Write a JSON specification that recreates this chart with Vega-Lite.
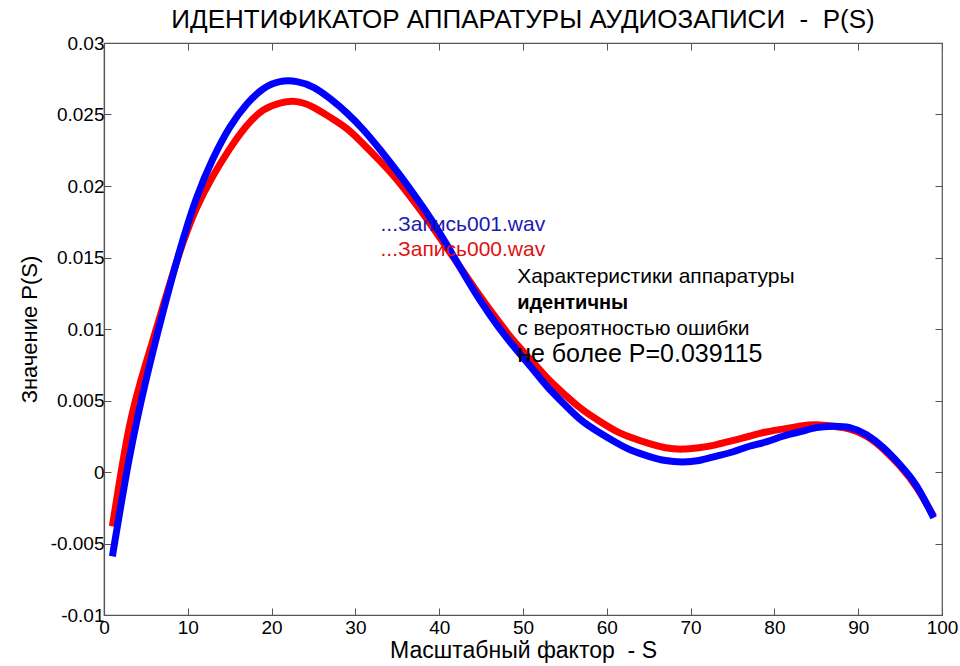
{
  "$schema": "https://vega.github.io/schema/vega-lite/v6.json",
  "width": 838,
  "height": 572,
  "autosize": "none",
  "padding": {"left": 104, "top": 43, "right": 18, "bottom": 51},
  "background": "white",
  "title": {
    "text": "ИДЕНТИФИКАТОР АППАРАТУРЫ АУДИОЗАПИСИ \u00a0- \u00a0P(S)",
    "fontSize": 26,
    "fontWeight": "normal",
    "font": "Liberation Sans",
    "color": "black",
    "offset": 1,
    "anchor": "middle"
  },
  "config": {
    "font": "Liberation Sans",
    "view": {"stroke": "#555555", "strokeWidth": 1.2},
    "axis": {
      "grid": false,
      "domainColor": "#555555",
      "domainWidth": 1.2,
      "tickColor": "#555555",
      "tickSize": -7,
      "labelColor": "black",
      "labelFontSize": 19,
      "labelFont": "Liberation Sans",
      "titleFont": "Liberation Sans",
      "titleFontWeight": "normal",
      "titleColor": "black"
    }
  },
  "datasets": {
    "curves": [
      {"S": 1, "P": -0.0038, "file": "Запись000.wav"},
      {"S": 3, "P": 0.0031, "file": "Запись000.wav"},
      {"S": 5, "P": 0.0076, "file": "Запись000.wav"},
      {"S": 7, "P": 0.0115, "file": "Запись000.wav"},
      {"S": 9, "P": 0.0153, "file": "Запись000.wav"},
      {"S": 11, "P": 0.0184, "file": "Запись000.wav"},
      {"S": 13, "P": 0.0207, "file": "Запись000.wav"},
      {"S": 15, "P": 0.0226, "file": "Запись000.wav"},
      {"S": 17, "P": 0.0242, "file": "Запись000.wav"},
      {"S": 19, "P": 0.0253, "file": "Запись000.wav"},
      {"S": 21, "P": 0.0258, "file": "Запись000.wav"},
      {"S": 23, "P": 0.0259, "file": "Запись000.wav"},
      {"S": 25, "P": 0.0255, "file": "Запись000.wav"},
      {"S": 27, "P": 0.0248, "file": "Запись000.wav"},
      {"S": 29, "P": 0.024, "file": "Запись000.wav"},
      {"S": 31, "P": 0.0229, "file": "Запись000.wav"},
      {"S": 33, "P": 0.0217, "file": "Запись000.wav"},
      {"S": 35, "P": 0.0204, "file": "Запись000.wav"},
      {"S": 37, "P": 0.0189, "file": "Запись000.wav"},
      {"S": 39, "P": 0.0173, "file": "Запись000.wav"},
      {"S": 41, "P": 0.0156, "file": "Запись000.wav"},
      {"S": 43, "P": 0.0139, "file": "Запись000.wav"},
      {"S": 45, "P": 0.0122, "file": "Запись000.wav"},
      {"S": 47, "P": 0.0106, "file": "Запись000.wav"},
      {"S": 49, "P": 0.0091, "file": "Запись000.wav"},
      {"S": 51, "P": 0.0078, "file": "Запись000.wav"},
      {"S": 53, "P": 0.0065, "file": "Запись000.wav"},
      {"S": 55, "P": 0.0054, "file": "Запись000.wav"},
      {"S": 57, "P": 0.0044, "file": "Запись000.wav"},
      {"S": 59, "P": 0.0036, "file": "Запись000.wav"},
      {"S": 61, "P": 0.0029, "file": "Запись000.wav"},
      {"S": 63, "P": 0.0024, "file": "Запись000.wav"},
      {"S": 65, "P": 0.002, "file": "Запись000.wav"},
      {"S": 67, "P": 0.0017, "file": "Запись000.wav"},
      {"S": 69, "P": 0.0016, "file": "Запись000.wav"},
      {"S": 71, "P": 0.0017, "file": "Запись000.wav"},
      {"S": 73, "P": 0.0019, "file": "Запись000.wav"},
      {"S": 75, "P": 0.0022, "file": "Запись000.wav"},
      {"S": 77, "P": 0.0025, "file": "Запись000.wav"},
      {"S": 79, "P": 0.0028, "file": "Запись000.wav"},
      {"S": 81, "P": 0.003, "file": "Запись000.wav"},
      {"S": 83, "P": 0.0032, "file": "Запись000.wav"},
      {"S": 85, "P": 0.0033, "file": "Запись000.wav"},
      {"S": 87, "P": 0.0032, "file": "Запись000.wav"},
      {"S": 89, "P": 0.003, "file": "Запись000.wav"},
      {"S": 91, "P": 0.0025, "file": "Запись000.wav"},
      {"S": 93, "P": 0.0016, "file": "Запись000.wav"},
      {"S": 95, "P": 0.0004, "file": "Запись000.wav"},
      {"S": 97, "P": -0.0011, "file": "Запись000.wav"},
      {"S": 99, "P": -0.0031, "file": "Запись000.wav"},
      {"S": 1, "P": -0.0059, "file": "Запись001.wav"},
      {"S": 3, "P": 0.0009, "file": "Запись001.wav"},
      {"S": 5, "P": 0.0064, "file": "Запись001.wav"},
      {"S": 7, "P": 0.0111, "file": "Запись001.wav"},
      {"S": 9, "P": 0.0154, "file": "Запись001.wav"},
      {"S": 11, "P": 0.0191, "file": "Запись001.wav"},
      {"S": 13, "P": 0.0219, "file": "Запись001.wav"},
      {"S": 15, "P": 0.0241, "file": "Запись001.wav"},
      {"S": 17, "P": 0.0257, "file": "Запись001.wav"},
      {"S": 19, "P": 0.0268, "file": "Запись001.wav"},
      {"S": 21, "P": 0.0273, "file": "Запись001.wav"},
      {"S": 23, "P": 0.0273, "file": "Запись001.wav"},
      {"S": 25, "P": 0.0269, "file": "Запись001.wav"},
      {"S": 27, "P": 0.0261, "file": "Запись001.wav"},
      {"S": 29, "P": 0.0251, "file": "Запись001.wav"},
      {"S": 31, "P": 0.0239, "file": "Запись001.wav"},
      {"S": 33, "P": 0.0225, "file": "Запись001.wav"},
      {"S": 35, "P": 0.021, "file": "Запись001.wav"},
      {"S": 37, "P": 0.0194, "file": "Запись001.wav"},
      {"S": 39, "P": 0.0177, "file": "Запись001.wav"},
      {"S": 41, "P": 0.0158, "file": "Запись001.wav"},
      {"S": 43, "P": 0.0138, "file": "Запись001.wav"},
      {"S": 45, "P": 0.0119, "file": "Запись001.wav"},
      {"S": 47, "P": 0.0102, "file": "Запись001.wav"},
      {"S": 49, "P": 0.0087, "file": "Запись001.wav"},
      {"S": 51, "P": 0.0073, "file": "Запись001.wav"},
      {"S": 53, "P": 0.0059, "file": "Запись001.wav"},
      {"S": 55, "P": 0.0047, "file": "Запись001.wav"},
      {"S": 57, "P": 0.0036, "file": "Запись001.wav"},
      {"S": 59, "P": 0.0028, "file": "Запись001.wav"},
      {"S": 61, "P": 0.0021, "file": "Запись001.wav"},
      {"S": 63, "P": 0.0015, "file": "Запись001.wav"},
      {"S": 65, "P": 0.0011, "file": "Запись001.wav"},
      {"S": 67, "P": 0.0008, "file": "Запись001.wav"},
      {"S": 69, "P": 0.0007, "file": "Запись001.wav"},
      {"S": 71, "P": 0.0008, "file": "Запись001.wav"},
      {"S": 73, "P": 0.0011, "file": "Запись001.wav"},
      {"S": 75, "P": 0.0014, "file": "Запись001.wav"},
      {"S": 77, "P": 0.0018, "file": "Запись001.wav"},
      {"S": 79, "P": 0.0021, "file": "Запись001.wav"},
      {"S": 81, "P": 0.0025, "file": "Запись001.wav"},
      {"S": 83, "P": 0.0028, "file": "Запись001.wav"},
      {"S": 85, "P": 0.0031, "file": "Запись001.wav"},
      {"S": 87, "P": 0.0032, "file": "Запись001.wav"},
      {"S": 89, "P": 0.0031, "file": "Запись001.wav"},
      {"S": 91, "P": 0.0026, "file": "Запись001.wav"},
      {"S": 93, "P": 0.0017, "file": "Запись001.wav"},
      {"S": 95, "P": 0.0005, "file": "Запись001.wav"},
      {"S": 97, "P": -0.001, "file": "Запись001.wav"},
      {"S": 99, "P": -0.0032, "file": "Запись001.wav"}
    ],
    "notes": [
      {"key": "f1", "x": 33.0, "y": 0.01727, "label": "...Запись001.wav"},
      {"key": "f0", "x": 33.0, "y": 0.01552, "label": "...Запись000.wav"},
      {"key": "n1", "x": 49.3, "y": 0.01364, "label": "Характеристики аппаратуры"},
      {"key": "b", "x": 49.3, "y": 0.01182, "label": "идентичны"},
      {"key": "n2", "x": 49.3, "y": 0.0100, "label": "с вероятностью ошибки"},
      {"key": "p", "x": 49.3, "y": 0.00825, "label": "не более P=0.039115"}
    ]
  },
  "layer": [
    {
      "data": {"name": "curves"},
      "transform": [{"filter": "datum.file == 'Запись000.wav'"}],
      "mark": {"type": "line", "color": "#FF0000", "strokeWidth": 7, "interpolate": "natural", "strokeCap": "butt"},
      "encoding": {
        "x": {"field": "S", "type": "quantitative", "scale": {"domain": [0, 100], "nice": false},
          "axis": {"orient": "bottom", "values": [0, 10, 20, 30, 40, 50, 60, 70, 80, 90, 100], "labelPadding": 10, "title": "Масштабный фактор \u00a0- S", "titleFontSize": 23, "titlePadding": 2, "labelFlush": false}},
        "y": {"field": "P", "type": "quantitative", "scale": {"domain": [-0.01, 0.03], "nice": false, "zero": false},
          "axis": {"orient": "left", "values": [-0.01, -0.005, 0, 0.005, 0.01, 0.015, 0.02, 0.025, 0.03], "labelExpr": "'' + datum.value", "labelPadding": 7, "title": "Значение P(S)", "titleFontSize": 22, "titlePadding": 9, "labelFlush": false}}
      }
    },
    {
      "data": {"name": "curves"},
      "transform": [{"filter": "datum.file == 'Запись001.wav'"}],
      "mark": {"type": "line", "color": "#0000FF", "strokeWidth": 7, "interpolate": "natural", "strokeCap": "butt"},
      "encoding": {
        "x": {"field": "S", "type": "quantitative",
          "axis": {"orient": "top", "values": [0, 10, 20, 30, 40, 50, 60, 70, 80, 90, 100], "labels": false, "title": null, "domain": false}},
        "y": {"field": "P", "type": "quantitative",
          "axis": {"orient": "right", "values": [-0.01, -0.005, 0, 0.005, 0.01, 0.015, 0.02, 0.025, 0.03], "labels": false, "title": null, "domain": false}}
      }
    },
    {
      "data": {"name": "notes"},
      "transform": [{"filter": "datum.key == 'f1'"}],
      "mark": {"type": "text", "align": "left", "baseline": "middle", "fontSize": 21, "color": "#1a1ab0", "font": "Liberation Sans"},
      "encoding": {"x": {"field": "x", "type": "quantitative", "axis": null}, "y": {"field": "y", "type": "quantitative", "axis": null}, "text": {"field": "label"}}
    },
    {
      "data": {"name": "notes"},
      "transform": [{"filter": "datum.key == 'f0'"}],
      "mark": {"type": "text", "align": "left", "baseline": "middle", "fontSize": 21, "color": "#e01010", "font": "Liberation Sans"},
      "encoding": {"x": {"field": "x", "type": "quantitative", "axis": null}, "y": {"field": "y", "type": "quantitative", "axis": null}, "text": {"field": "label"}}
    },
    {
      "data": {"name": "notes"},
      "transform": [{"filter": "datum.key == 'n1' || datum.key == 'n2'"}],
      "mark": {"type": "text", "align": "left", "baseline": "middle", "fontSize": 21, "color": "black", "font": "Liberation Sans"},
      "encoding": {"x": {"field": "x", "type": "quantitative", "axis": null}, "y": {"field": "y", "type": "quantitative", "axis": null}, "text": {"field": "label"}}
    },
    {
      "data": {"name": "notes"},
      "transform": [{"filter": "datum.key == 'b'"}],
      "mark": {"type": "text", "align": "left", "baseline": "middle", "fontSize": 20, "fontWeight": "bold", "color": "black", "font": "Liberation Sans"},
      "encoding": {"x": {"field": "x", "type": "quantitative", "axis": null}, "y": {"field": "y", "type": "quantitative", "axis": null}, "text": {"field": "label"}}
    },
    {
      "data": {"name": "notes"},
      "transform": [{"filter": "datum.key == 'p'"}],
      "mark": {"type": "text", "align": "left", "baseline": "middle", "fontSize": 25, "color": "black", "font": "Liberation Sans"},
      "encoding": {"x": {"field": "x", "type": "quantitative", "axis": null}, "y": {"field": "y", "type": "quantitative", "axis": null}, "text": {"field": "label"}}
    }
  ],
  "resolve": {"axis": {"x": "independent", "y": "independent"}}
}
